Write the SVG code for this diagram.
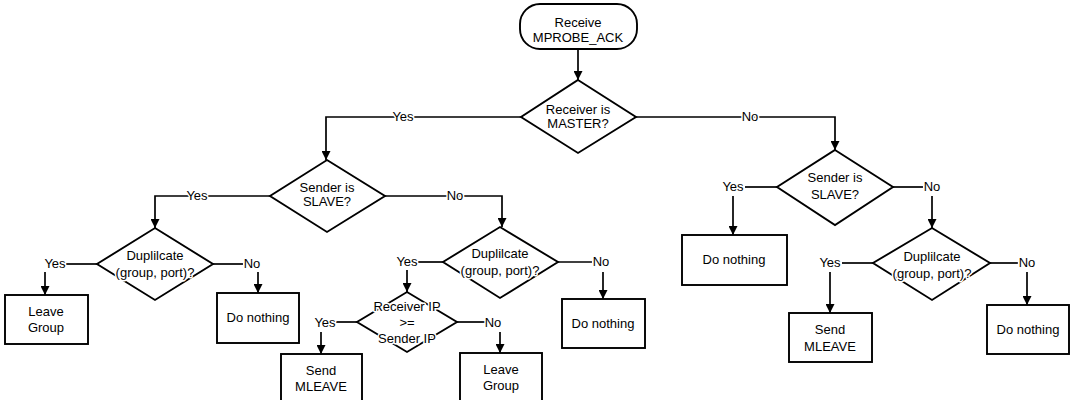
<svg xmlns="http://www.w3.org/2000/svg" width="1071" height="400" viewBox="0 0 1071 400">
<defs>
<marker id="ah" viewBox="0 0 10 10" refX="10" refY="5" markerWidth="9" markerHeight="9" markerUnits="userSpaceOnUse" orient="auto">
<path d="M0,0 L10,5 L0,10 z" fill="#000"/>
</marker>
<style>
.shape{fill:#fff;stroke:#000;stroke-width:1.9}
.conn{fill:none;stroke:#000;stroke-width:1.7}
.arr{fill:none;stroke:#000;stroke-width:1.7;marker-end:url(#ah)}
text{font-family:"Liberation Sans",Arial,sans-serif;font-size:13px;fill:#000;text-anchor:middle;stroke:#fff;stroke-width:3px;paint-order:stroke;stroke-linejoin:round}
</style>
</defs>
<rect width="1071" height="400" fill="#fff"/>
<g id="connectors">
<path class="arr" d="M578,49 V80"/>
<path class="arr" d="M521,117 H326 V160"/>
<path class="arr" d="M636,117 H835 V150"/>
<path class="arr" d="M270,196 H155 V228"/>
<path class="arr" d="M385,196 H502 V227"/>
<path class="conn" d="M97,264 H66"/>
<path class="arr" d="M45,272 V295"/>
<path class="conn" d="M213,264 H243"/>
<path class="arr" d="M258,272 V293"/>
<path class="conn" d="M443,262 H418"/>
<path class="arr" d="M407,270 V292"/>
<path class="conn" d="M558,262 H592"/>
<path class="arr" d="M603,272 V299"/>
<path class="conn" d="M357,322 H336"/>
<path class="arr" d="M321,332 V354"/>
<path class="conn" d="M457,322 H485"/>
<path class="arr" d="M500,332 V353"/>
<path class="conn" d="M777,187 H745"/>
<path class="arr" d="M733,196 V235"/>
<path class="conn" d="M893,187 H923"/>
<path class="arr" d="M932,196 V228"/>
<path class="conn" d="M873,263 H842"/>
<path class="arr" d="M830,272 V313"/>
<path class="conn" d="M990,263 H1018"/>
<path class="arr" d="M1027,272 V305"/>
<text x="403" y="121">Yes</text>
<text x="750" y="121">No</text>
<text x="197" y="200">Yes</text>
<text x="455" y="200">No</text>
<text x="55" y="268">Yes</text>
<text x="252" y="268">No</text>
<text x="407" y="266">Yes</text>
<text x="601" y="266">No</text>
<text x="325" y="327">Yes</text>
<text x="493" y="327">No</text>
<text x="733" y="191">Yes</text>
<text x="932" y="191">No</text>
<text x="830" y="267">Yes</text>
<text x="1027" y="267">No</text>
</g>
<g id="start">
<rect class="shape" x="520" y="4" width="117" height="45" rx="20"/>
<text x="578" y="27">Receive</text>
<text x="578" y="42">MPROBE_ACK</text>
</g>
<g id="master">
<polygon class="shape" points="578,80 636,117 578,153 521,117"/>
<text x="578" y="114">Receiver is</text>
<text x="578" y="128">MASTER?</text>
</g>
<g id="slave-left">
<polygon class="shape" points="327,160 385,196 327,232 270,196"/>
<text x="327" y="192">Sender is</text>
<text x="327" y="206">SLAVE?</text>
</g>
<g id="dup-left">
<polygon class="shape" points="155,228 213,264 155,300 97,264"/>
<text x="155" y="260">Duplilcate</text>
<text x="155" y="277">(group, port)?</text>
</g>
<g id="leave-left">
<rect class="shape" x="5" y="295" width="83" height="49"/>
<text x="46" y="316">Leave</text>
<text x="46" y="332">Group</text>
</g>
<g id="nothing-left">
<rect class="shape" x="217" y="293" width="82" height="50"/>
<text x="258" y="322">Do nothing</text>
</g>
<g id="dup-mid">
<polygon class="shape" points="500,227 558,262 500,298 443,262"/>
<text x="500" y="258">Duplilcate</text>
<text x="500" y="275">(group, port)?</text>
</g>
<g id="ipcompare">
<polygon class="shape" points="407,292 457,322 407,352 357,322"/>
<text x="407" y="311">Receiver IP</text>
<text x="407" y="327">&gt;=</text>
<text x="407" y="343">Sender IP</text>
</g>
<g id="mleave-mid">
<rect class="shape" x="281" y="354" width="81" height="50"/>
<text x="321" y="375">Send</text>
<text x="321" y="391">MLEAVE</text>
</g>
<g id="leave-mid">
<rect class="shape" x="460" y="353" width="82" height="50"/>
<text x="501" y="374">Leave</text>
<text x="501" y="390">Group</text>
</g>
<g id="nothing-mid">
<rect class="shape" x="562" y="299" width="83" height="49"/>
<text x="603" y="328">Do nothing</text>
</g>
<g id="slave-right">
<polygon class="shape" points="835,150 893,187 835,225 777,187"/>
<text x="835" y="182">Sender is</text>
<text x="835" y="199">SLAVE?</text>
</g>
<g id="nothing-right1">
<rect class="shape" x="682" y="235" width="105" height="50"/>
<text x="734" y="264">Do nothing</text>
</g>
<g id="dup-right">
<polygon class="shape" points="932,228 990,263 932,300 873,263"/>
<text x="932" y="261">Duplilcate</text>
<text x="932" y="278">(group, port)?</text>
</g>
<g id="mleave-right">
<rect class="shape" x="789" y="313" width="83" height="49"/>
<text x="830" y="334">Send</text>
<text x="830" y="351">MLEAVE</text>
</g>
<g id="nothing-right2">
<rect class="shape" x="987" y="305" width="82" height="49"/>
<text x="1028" y="334">Do nothing</text>
</g>
</svg>
